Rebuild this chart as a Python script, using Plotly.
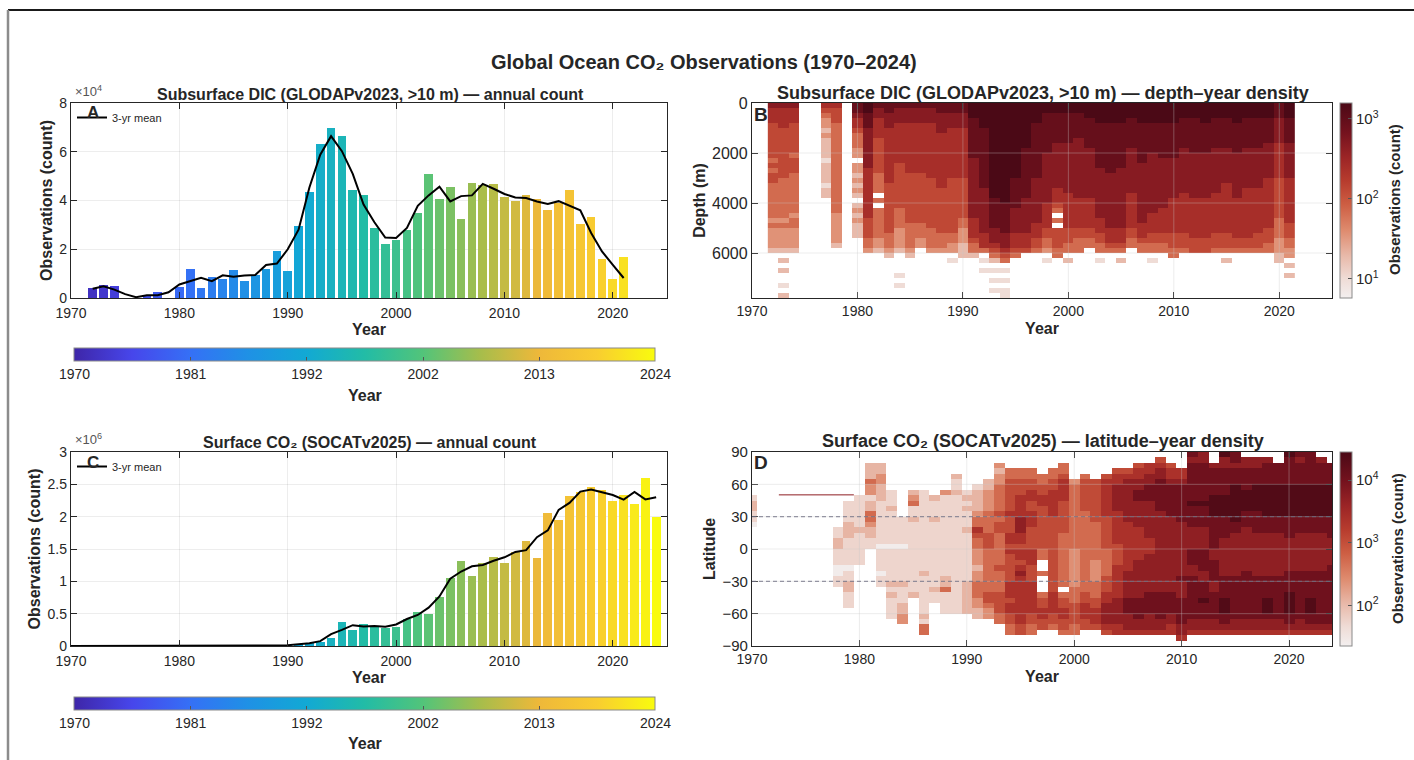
import numpy as np
import plotly.graph_objects as go

W, H = 1414, 760

# ---------------- data ----------------
years_A = list(range(1972, 2022))
dic_counts = [4250, 5500, 4800, 0, 0, 1000, 2300, 0, 4700, 12000,
              4200, 8600, 8000, 11400, 6900, 9500, 11900, 19300, 11200, 29400,
              43500, 63200, 69700, 66300, 44200, 42300, 28600, 22300, 23600, 27900,
              34800, 50700, 40800, 45600, 32500, 47300, 46500, 46600, 41400, 40000,
              42300, 40700, 36000, 39000, 44200, 30500, 33300, 16200, 7800, 16800]
dic_mean3 = [3800, 4850, 3430, 1600, 330, 1100, 1100, 2330, 5570, 6970,
             8270, 6930, 9330, 8770, 9270, 9430, 13570, 14130, 19970, 28030,
             45370, 58800, 66400, 60230, 50930, 38370, 31070, 24830, 24600, 28770,
             37800, 42100, 45700, 39630, 41800, 42100, 46800, 44830, 42670, 41230,
             41000, 39570, 38570, 39730, 37900, 36000, 26670, 19100, 13600, 8200]

years_C = list(range(1970, 2025))
socat_counts = [3000, 0, 1500, 1500, 1500, 1500, 1500, 1500, 8000, 12000,
                8000, 15000, 10000, 9000, 8000, 12000, 9000, 8000, 10000, 9000,
                8000, 22000, 45000, 60000, 120000, 375000, 250000, 340000, 310000, 280000,
                300000, 420000, 530000, 490000, 760000, 1050000, 1315000, 1090000, 1290000, 1380000,
                1285000, 1450000, 1630000, 1365000, 2055000, 1945000, 2315000, 2380000, 2465000, 2415000,
                2250000, 2340000, 2200000, 2605000, 1995000]
socat_mean3 = [1500, 1500, 1000, 1500, 1500, 1500, 1500, 1500, 7000, 9000,
               12000, 11000, 11000, 9000, 10000, 10000, 10000, 9000, 9000, 9000,
               13000, 25000, 42000, 75000, 185000, 250000, 322000, 300000, 310000, 297000,
               333000, 417000, 480000, 593000, 767000, 1042000, 1152000, 1232000, 1253000, 1318000,
               1372000, 1455000, 1482000, 1683000, 1788000, 2105000, 2213000, 2387000, 2420000, 2377000,
               2335000, 2263000, 2382000, 2267000, 2300000]

year_cbar_ticks = [1970, 1980.8, 1991.6, 2002.4, 2013.2, 2024]
year_cbar_text = ["1970", "1981", "1992", "2002", "2013", "2024"]

# Panel B: depth-year density. One string per year, one char per 200 m bin from the surface.
# char d -> log10(count) = 1.0 + 0.28*d ; '.' = no data
B_years = list(range(1972, 2022))
B_profiles = {
    1972: "655544444443434433333332322221",
    1973: "655554444444444333333332322221.1.1..0.1",
    1974: "655544444434443333333323322221",
    1975: "", 1976: "",
    1977: "5432212111101111011",
    1978: "54443333333333333333332222221",
    1979: "",
    1980: "77655433322.2212121.1212111",
    1981: "887776666666655555555554444332",
    1982: "766555544444443333.3.333333221",
    1983: "7766655555555555444444444433321",
    1984: "766655555555444444444333322221....0.0",
    1985: "7666555555555544444444443333321",
    1986: "76665555555555444444444433322",
    1987: "766655555555555444444444433332",
    1988: "776666555555555554444444443332",
    1989: "776665555555555444444444443322.0",
    1990: "7766655555555554444444433222111",
    1991: "8887777777766666666666655554331",
    1992: "888887777777777776666666665553.0.0",
    1993: "99998888888888888887777776665431.0.0.0",
    1994: "99999888888888888888777777666543.0.0.00",
    1995: "9999888888888887777776666655543",
    1996: "998888888777777777766666665554",
    1997: "888877777777777666666666555443",
    1998: "887777777766666666665555544332.0",
    1999: "8877777766666666655543.3.444433",
    2000: "887777776666666666555555544433.1",
    2001: "887777766666666666655555544333",
    2002: "88877777766666666665555554433",
    2003: "888877777777766666666665554433.0",
    2004: "888877777777776666666666655543",
    2005: "888877777777766666666666655543.1",
    2006: "88877777766666666655555554433",
    2007: "888877777777666666666666555433",
    2008: "888877777766666666666655554433.0",
    2009: "888877777776666666666555554433",
    2010: "8888777777766666666555555544433",
    2011: "888777777666666666555555554443",
    2012: "888777777766666666655555555444",
    2013: "888877777766666666655555555444",
    2014: "888777777666666666555555554443",
    2015: "888777777666666655555555554443.1",
    2016: "888877777766666666655555555443",
    2017: "888777777666666665555555555443",
    2018: "888777777666666665555555554443",
    2019: "888777776666666555555555544433",
    2020: "77766666555555544444444333322211",
    2021: "8887777766666665555555554443322.1.1",
}
B_depth_bin = 200
B_nbins = 39

# Panel D: latitude-year density. (first 5-deg band index from the north, chars north->south)
# char d -> log10(count) = 1.4 + 0.33*d ; '.' = no data
D_years = list(range(1970, 2025))
D_cols = {
    1970: (8, "122110"),
    1978: (14, "11221110011"),
    1979: (9, "11112221111101122111"),
    1980: (8, "1111112111111"),
    1981: (2, "2224331224432211"),
    1982: (2, "22332221111111101111011"),
    1983: (7, "111211111101111112121111"),
    1984: (12, "11111011111121112233"),
    1985: (7, "23411211111111111112"),
    1986: (7, "111111111111111211111112144"),
    1987: (8, "21112111111111111211"),
    1988: (7, "31111111111111112241111"),
    1989: (4, "21121111111111111111111111"),
    1990: (7, "12121112111111111222222"),
    1991: (6, "1222234465443332334443322"),
    1992: (5, "22333344445554444444455433"),
    1993: (2, "323344444545544444454444555544"),
    1994: (3, "4455555565556656555556665665544"),
    1995: (3, "4455566667776656656766666666655"),
    1996: (3, "4455665566655556665556666665544"),
    1997: (4, "4455665555555544..4...4556655"),
    1998: (3, "445566666555555555555556666554"),
    1999: (2, "44566665555554444444444.45566554"),
    2000: (5, "34444444444443333333444555544"),
    2001: (4, "45555554444444444444445566655"),
    2002: (5, "5555555544444443333444556665"),
    2003: (4, "566666665555554444455566777765"),
    2004: (3, "5667777766666655556666667777766"),
    2005: (3, "5677777777666666666777778887776"),
    2006: (2, "56677887777766666677777778888776"),
    2007: (2, "66778887777777666777777788887776"),
    2008: (1, "567788888877777777777777788888776"),
    2009: (2, "56678888887777777777777788887766"),
    2010: (3, "66788888887777777777877788888776"),
    2011: (0, "8788888889888877778887788888888776"),
    2012: (0, "7788888889888877778888778889888776"),
    2013: (2, "78888899998888887788887788888776"),
    2014: (0, "9778888899998888777777788889998876"),
    2015: (0, "8878889999999887777777788888888776"),
    2016: (1, "778888999988877777777888888888776"),
    2017: (1, "778889999988887777777788888888776"),
    2018: (1, "788889999998887777777788889998776"),
    2019: (2, "88889999998887777777788888888776"),
    2020: (0, "9888889999998888777777888899998876"),
    2021: (0, "8788889999998887777777888888888776"),
    2022: (0, "8888889999998887777777888889998876"),
    2023: (1, "788889999998887777777888888888876"),
    2024: (2, "88889999998888777778888888888876"),
}
D_nbands = 36
# narrow ship track near 50N, 1973-1979
track_year_edges = [1972.5, 1973.5, 1974.5, 1975.5, 1976.5, 1977.5, 1978.5, 1979.5]
track_lat_edges = [49.5, 50.7]
track_level = [[7, 7, 7, 7, 7, 7, 7]]
tropic_lats = [30, -30]

# ---------------- decoding ----------------
zB = np.full((B_nbins, len(B_years)), np.nan)
for j, yr in enumerate(B_years):
    s = B_profiles.get(yr, "").ljust(B_nbins, ".")[:B_nbins]
    for i, ch in enumerate(s):
        if ch.isdigit():
            zB[i, j] = 1.0 + 0.28 * int(ch)
depth_centres = [B_depth_bin * (i + 0.5) for i in range(B_nbins)]

zD = np.full((D_nbands, len(D_years)), np.nan)  # row 0 = south
for j, yr in enumerate(D_years):
    start, s = D_cols.get(yr, (0, ""))
    full = ("." * start + s).ljust(D_nbands, ".")[:D_nbands]
    for k, ch in enumerate(full):  # k=0 is 85-90N
        if ch.isdigit():
            zD[D_nbands - 1 - k, j] = 1.4 + 0.33 * int(ch)
lat_centres = [-87.5 + 5 * i for i in range(D_nbands)]
track_z = [[1.4 + 0.33 * v for v in track_level[0]]]

# ---------------- styling ----------------
FONT = "Liberation Sans, Arial, Helvetica, sans-serif"
TXT = "#262626"

parula = [[0.0, "#3e26a8"], [0.1, "#4746eb"], [0.2, "#3570f6"], [0.3, "#1f91e5"],
          [0.4, "#12a9d4"], [0.5, "#22bca6"], [0.6, "#52c47a"], [0.7, "#a7bd4b"],
          [0.8, "#eeb83a"], [0.9, "#f9cd30"], [1.0, "#f9fb0e"]]
reds = [[0.0, "#f3efef"], [0.1, "#efdcd6"], [0.22, "#e8b8a8"], [0.35, "#de8a6d"],
        [0.48, "#cd5e43"], [0.6, "#b73c2e"], [0.72, "#9c2526"], [0.85, "#74121e"],
        [1.0, "#4b0916"]]


def dx(a, b):
    return [a / W, b / W]


def dy(top, bottom):
    return [1 - bottom / H, 1 - top / H]


def axis(**kw):
    d = dict(showline=True, linecolor=TXT, linewidth=1.3, mirror="ticks",
             ticks="inside", ticklen=6, tickwidth=1.3, tickcolor=TXT,
             tickfont=dict(family=FONT, size=14, color=TXT), automargin=False,
             showgrid=True, gridcolor="rgba(0,0,0,0.07)", zeroline=False)
    d.update(kw)
    return d


fig = go.Figure()

# Panel A
fig.add_trace(go.Bar(x=years_A, y=dic_counts, width=0.8,
                     marker=dict(color=years_A, coloraxis="coloraxis3", line=dict(width=0)),
                     xaxis="x", yaxis="y", showlegend=False, hoverinfo="x+y"))
fig.add_trace(go.Scatter(x=years_A, y=dic_mean3, mode="lines", name="3-yr mean",
                         line=dict(color="black", width=2), xaxis="x", yaxis="y",
                         legend="legend"))
# Panel C
fig.add_trace(go.Bar(x=years_C, y=socat_counts, width=0.8,
                     marker=dict(color=years_C, coloraxis="coloraxis4", line=dict(width=0)),
                     xaxis="x3", yaxis="y3", showlegend=False, hoverinfo="x+y"))
fig.add_trace(go.Scatter(x=years_C, y=socat_mean3, mode="lines", name="3-yr mean",
                         line=dict(color="black", width=2), xaxis="x3", yaxis="y3",
                         legend="legend2"))
# Panel B
fig.add_trace(go.Heatmap(x=B_years, y=depth_centres, z=zB, coloraxis="coloraxis",
                         xaxis="x2", yaxis="y2", hoverongaps=False))
# Panel D
fig.add_trace(go.Heatmap(x=D_years, y=lat_centres, z=zD, coloraxis="coloraxis2",
                         xaxis="x4", yaxis="y4", hoverongaps=False))
fig.add_trace(go.Heatmap(x=track_year_edges, y=track_lat_edges, z=track_z,
                         coloraxis="coloraxis2", xaxis="x4", yaxis="y4", hoverongaps=False))

decades = [1970, 1980, 1990, 2000, 2010, 2020]

cb_common = dict(thickness=13, xpad=0, ypad=0, outlinecolor="#8a8a8a", outlinewidth=1,
                 ticks="inside", ticklen=4, tickcolor="#555555",
                 tickfont=dict(family=FONT, size=14, color=TXT))


def year_cb(ytop):
    return dict(orientation="h", x=365 / W, xanchor="center",
                y=1 - ytop / H, yanchor="top", len=581 / W, lenmode="fraction",
                tickvals=year_cbar_ticks, ticktext=year_cbar_text, **cb_common)


def log_cb(ytop, ybot, vals, txt):
    return dict(x=1340 / W, xanchor="left", y=1 - (ytop + ybot) / 2 / H, yanchor="middle",
                len=(ybot - ytop) / H, lenmode="fraction", tickvals=vals, ticktext=txt,
                **{**cb_common, "thickness": 12,
                   "tickfont": dict(family=FONT, size=15, color=TXT)})


TT = dict(family=FONT, size=16, color=TXT)

fig.update_layout(
    width=W, height=H, autosize=False,
    margin=dict(l=0, r=0, t=0, b=0, autoexpand=False),
    paper_bgcolor="white", plot_bgcolor="white",
    font=dict(family=FONT, color=TXT),
    bargap=0,
    xaxis=axis(domain=dx(71, 667), range=[1970, 2025], tickvals=decades, anchor="y",
               ticklabelstandoff=2,
               title=dict(text="<b>Year</b>", font=TT, standoff=3)),
    yaxis=axis(domain=dy(103, 298), range=[0, 80000], tickvals=[0, 20000, 40000, 60000, 80000],
               ticktext=["0", "2", "4", "6", "8"], anchor="x",
               title=dict(text="<b>Observations (count)</b>", font=TT, standoff=2)),
    xaxis2=axis(domain=dx(752, 1332), range=[1970, 2025], tickvals=decades, anchor="y2",
                layer="above traces", showgrid=False,
                title=dict(text="<b>Year</b>", font=TT, standoff=4)),
    yaxis2=axis(domain=dy(103, 298), range=[7800, 0], tickvals=[0, 2000, 4000, 6000],
                anchor="x2", layer="above traces", showgrid=False,
                tickfont=dict(family=FONT, size=16, color=TXT),
                title=dict(text="<b>Depth (m)</b>", font=TT, standoff=2)),
    xaxis3=axis(domain=dx(71, 667), range=[1970, 2025], tickvals=decades, anchor="y3",
                ticklabelstandoff=2,
                title=dict(text="<b>Year</b>", font=TT, standoff=3)),
    yaxis3=axis(domain=dy(452, 646), range=[0, 3000000],
                tickvals=[0, 500000, 1000000, 1500000, 2000000, 2500000, 3000000],
                ticktext=["0", "0.5", "1", "1.5", "2", "2.5", "3"], anchor="x3",
                title=dict(text="<b>Observations (count)</b>", font=TT, standoff=2)),
    xaxis4=axis(domain=dx(752, 1332), range=[1970, 2024], tickvals=decades, anchor="y4",
                layer="above traces", showgrid=False,
                title=dict(text="<b>Year</b>", font=TT, standoff=4)),
    yaxis4=axis(domain=dy(452, 646), range=[-90, 90], tickvals=[-90, -60, -30, 0, 30, 60, 90],
                anchor="x4", layer="above traces", showgrid=False,
                tickfont=dict(family=FONT, size=15, color=TXT),
                title=dict(text="<b>Latitude</b>", font=TT, standoff=2)),
    coloraxis=dict(colorscale=reds, cmin=0.76, cmax=3.2,
                   colorbar=log_cb(103, 298, [1, 2, 3],
                                   ["10<sup>1</sup>", "10<sup>2</sup>", "10<sup>3</sup>"])),
    coloraxis2=dict(colorscale=reds, cmin=1.35, cmax=4.45,
                    colorbar=log_cb(452, 646, [2, 3, 4],
                                    ["10<sup>2</sup>", "10<sup>3</sup>", "10<sup>4</sup>"])),
    coloraxis3=dict(colorscale=parula, cmin=1970, cmax=2024, colorbar=year_cb(348)),
    coloraxis4=dict(colorscale=parula, cmin=1970, cmax=2024, colorbar=year_cb(697)),
    legend=dict(x=72 / W, y=1 - 103 / H, xanchor="left", yanchor="top",
                bgcolor="rgba(0,0,0,0)", font=dict(family=FONT, size=11, color=TXT),
                itemwidth=30, tracegroupgap=0),
    legend2=dict(x=72 / W, y=1 - 452 / H, xanchor="left", yanchor="top",
                 bgcolor="rgba(0,0,0,0)", font=dict(family=FONT, size=11, color=TXT),
                 itemwidth=30, tracegroupgap=0),
)

ann = []


def note(text, x, y, size, xa="center", ya="middle", angle=0, color=TXT):
    ann.append(dict(text=text, x=x / W, y=1 - y / H, xref="paper", yref="paper",
                    xanchor=xa, yanchor=ya, showarrow=False, textangle=angle,
                    font=dict(family=FONT, size=size, color=color)))


note("<b>Global Ocean CO₂ Observations (1970–2024)</b>", 704, 62, 20)
note("<b>Subsurface DIC (GLODAPv2023, >10 m) — annual count</b>", 370, 94, 16)
note("<b>Surface CO₂ (SOCATv2025) — annual count</b>", 370, 442, 16)
note("<b>Subsurface DIC (GLODAPv2023, >10 m) — depth–year density</b>", 1043, 93, 18)
note("<b>Surface CO₂ (SOCATv2025) — latitude–year density</b>", 1043, 441, 18)
note("×10<sup>4</sup>", 73, 91, 13, xa="left", color="#555555")
note("×10<sup>6</sup>", 73, 439, 13, xa="left", color="#555555")
note("<b>A</b>", 93, 113, 17)
note("<b>C</b>", 93, 462, 17)
note("<b>B</b>", 761, 114, 19)
note("<b>D</b>", 761, 463, 19)
note("<b>Year</b>", 365, 395, 16)
note("<b>Year</b>", 365, 743, 16)
note("<b>Observations (count)</b>", 1395, 200, 15, angle=-90)
note("<b>Observations (count)</b>", 1397, 549, 15, angle=-90)
fig.update_layout(annotations=ann)

shapes = []
# figure frame (top and left edges)
shapes.append(dict(type="line", xref="paper", yref="paper", x0=8 / W, x1=1, y0=1 - 10 / H,
                   y1=1 - 10 / H, line=dict(color="#1a1a1a", width=2)))
shapes.append(dict(type="line", xref="paper", yref="paper", x0=8 / W, x1=8 / W, y0=0,
                   y1=1 - 10 / H, line=dict(color="#8c8c8c", width=2.5)))
# faint grid above heatmaps
for xa, ya, yvals in (("x2", "y2", [2000, 4000, 6000]), ("x4", "y4", [-60, -30, 0, 30, 60])):
    for xv in decades[1:]:
        shapes.append(dict(type="line", xref=xa, yref=ya + " domain", x0=xv, x1=xv, y0=0, y1=1,
                           line=dict(color="rgba(200,200,200,0.35)", width=1), layer="above"))
    for yv in yvals:
        shapes.append(dict(type="line", xref=xa + " domain", yref=ya, x0=0, x1=1, y0=yv, y1=yv,
                           line=dict(color="rgba(200,200,200,0.35)", width=1), layer="above"))
for lat in tropic_lats:
    shapes.append(dict(type="line", xref="x4 domain", yref="y4", x0=0, x1=1, y0=lat, y1=lat,
                       line=dict(color="rgba(110,110,130,0.7)", width=1.2, dash="4px,3px"),
                       layer="above"))
fig.update_layout(shapes=shapes)

fig.write_html("out.html")
